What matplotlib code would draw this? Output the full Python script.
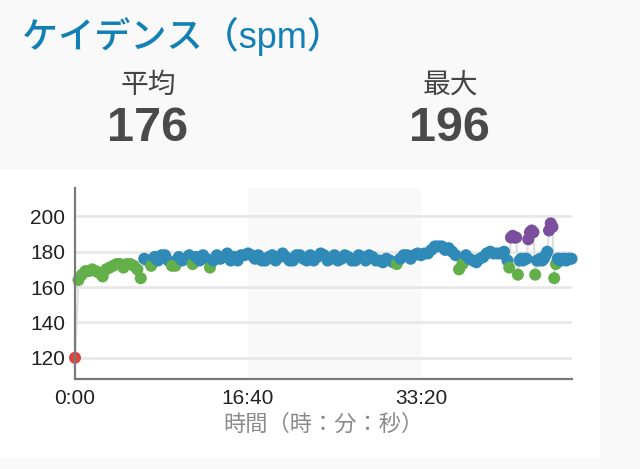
import matplotlib
matplotlib.use("Agg")
import matplotlib.pyplot as plt
from matplotlib.patches import Rectangle
from matplotlib.ticker import FuncFormatter

plt.rcParams["font.family"] = ["Liberation Sans", "Noto Sans CJK JP", "DejaVu Sans"]

# sample times (s): 20 s steps, then 10 s steps near the end
times = list(range(0, 2500, 20)) + list(range(2500, 2880, 10))

cadence = [
    120, 164, 167, 169, 169, 170, 169, 168, 166, 170,
    171, 172, 173, 173, 171, 173, 173, 172, 170, 165,
    176, 175, 172, 177, 175, 178, 178, 175, 172, 172,
    177, 175, 176, 178, 173, 177, 175, 178, 176, 171,
    175, 178, 176, 177, 179, 175, 177, 175, 178, 178,
    179, 178, 176, 178, 175, 175, 177, 178, 175, 177,
    179, 177, 175, 175, 178, 178, 176, 175, 178, 175,
    177, 179, 178, 175, 176, 178, 175, 176, 178, 177,
    175, 175, 178, 177, 175, 178, 177, 175, 175, 174,
    176, 175, 174, 173, 176, 178, 178, 176, 178, 179,
    178, 179, 179, 181, 183, 183, 183, 181, 182, 180,
    178, 170, 173, 178, 176, 175, 174, 176, 177, 179,
    180, 179, 179, 179, 180,
    # 10 s steps from 41:40
    175, 171, 188, 189, 188, 188, 167, 175, 176, 175,
    176, 176, 187, 191, 192, 191, 167, 175, 175, 176,
    175, 176, 178, 180, 192, 196, 194, 165, 173, 176,
    176, 175, 176, 176, 175, 176, 176, 176,
]

avg_value = 176
max_value = 196
x_ticks = [0, 1000, 2000]


def zone_color(v):
    if v < 153:
        return "#d9463e"
    if v < 164:
        return "#f39c34"
    if v < 174:
        return "#63b04b"
    if v < 184:
        return "#2f8ab8"
    return "#7b4f9e"


fig = plt.figure(figsize=(6.4, 4.69), dpi=100)
fig.patch.set_facecolor("#f9f9f9")

# white card behind the chart
fig.patches.append(Rectangle((0, 0.0235), 0.9375, 0.6162, transform=fig.transFigure,
                             facecolor="white", edgecolor="none", zorder=-10))

fig.text(0.034, 0.923, "ケイデンス（spm）", fontsize=26, color="#1280b5", va="center",
         fontweight="medium")
fig.text(0.231, 0.817, "平均", fontsize=20, color="#444444", ha="center", va="center")
fig.text(0.231, 0.727, str(avg_value), fontsize=35, fontweight="bold", color="#4a4a4a",
         ha="center", va="center")
fig.text(0.703, 0.817, "最大", fontsize=20, color="#444444", ha="center", va="center")
fig.text(0.703, 0.727, str(max_value), fontsize=35, fontweight="bold", color="#4a4a4a",
         ha="center", va="center")

ax = fig.add_axes([0.1172, 0.1919, 0.7766, 0.4072])
ax.set_facecolor("none")

ax.axvspan(1000, 2000, color="#f9f9f9", zorder=0, lw=0)
for y in [120, 140, 160, 180, 200]:
    ax.axhline(y, color="#e8e8e8", lw=2, zorder=1)

ax.plot(times, cadence, color="#dedede", lw=1.5, zorder=2)
ax.scatter(times, cadence, c=[zone_color(v) for v in cadence], s=75,
           linewidths=0, zorder=3, clip_on=False)

ax.set_xlim(0, 2873)
ax.set_ylim(108, 216)
ax.set_yticks([120, 140, 160, 180, 200])
ax.set_xticks(x_ticks)
ax.xaxis.set_major_formatter(FuncFormatter(lambda v, p: f"{int(v) // 60}:{int(v) % 60:02d}"))
ax.tick_params(length=0, labelsize=15, colors="#222222", pad=7)
ax.tick_params(axis="x", pad=7)

for s in ["top", "right"]:
    ax.spines[s].set_visible(False)
for s in ["left", "bottom"]:
    ax.spines[s].set_color("#7a7a7a")
    ax.spines[s].set_linewidth(1.6)
    ax.spines[s].set_zorder(4)

ax.set_xlabel("時間（時：分：秒）", fontsize=16, color="#8a8a8a", labelpad=5)

plt.savefig("out.png", dpi=100, facecolor=fig.get_facecolor())
